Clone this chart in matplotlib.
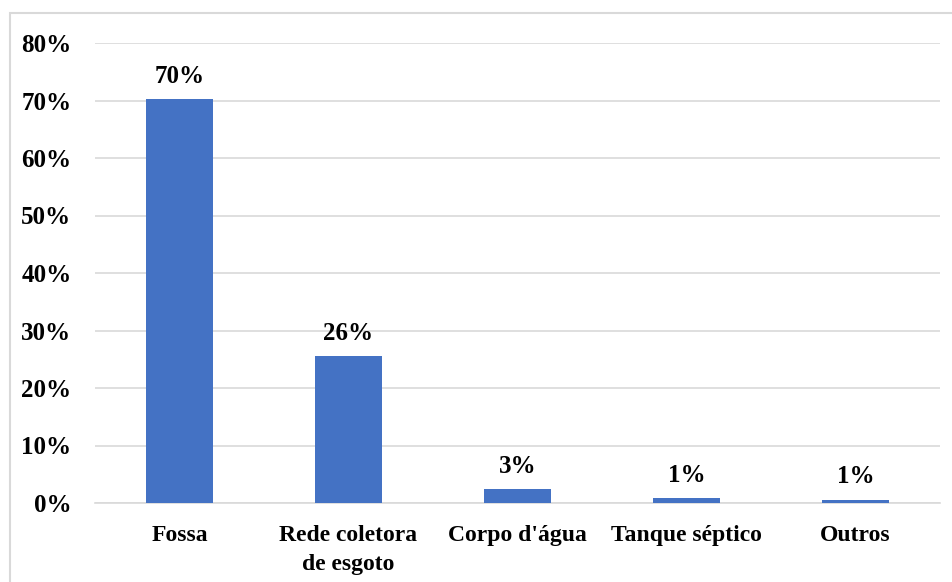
import matplotlib.pyplot as plt
from matplotlib.patches import Rectangle
from matplotlib.ticker import PercentFormatter

categorias = ['Fossa', 'Rede coletora\nde esgoto', "Corpo d'água", 'Tanque séptico', 'Outros']
valores = [70.2, 25.5, 2.4, 0.8, 0.6]
rotulos = ['70%', '26%', '3%', '1%', '1%']

plt.rcParams['font.family'] = ['Liberation Serif', 'DejaVu Serif']
plt.rcParams['font.weight'] = 'bold'

fig = plt.figure(figsize=(9.52, 5.82), dpi=100)
ax = fig.add_axes([95/952, 1-503/582, 845/952, 460/582])

x = range(len(categorias))
bars = ax.bar(x, valores, width=0.4, color='#4472C4', zorder=3)
for b, r in zip(bars, rotulos):
    ax.text(b.get_x()+b.get_width()/2, b.get_height()+2.0, r, ha='center', va='bottom',
            fontsize=18, fontweight='bold')

ax.set_xlim(-0.5, 4.5)
ax.set_ylim(0, 80)
ax.set_yticks(range(0, 81, 10))
ax.yaxis.set_major_formatter(PercentFormatter(decimals=0))
ax.set_xticks(list(x))
ax.set_xticklabels(categorias, fontsize=17, fontweight='bold', linespacing=1.5)
ax.tick_params(axis='y', labelsize=18, length=0, pad=17)
ax.tick_params(axis='x', length=0, pad=16)
for lbl in ax.get_yticklabels():
    lbl.set_fontweight('bold')

ax.grid(axis='y', color='#d9d9d9', linewidth=1.2, zorder=0)
for s in ['left', 'right', 'top']:
    ax.spines[s].set_visible(False)
ax.spines['bottom'].set_color('#d9d9d9')
ax.spines['bottom'].set_linewidth(1.2)

# moldura do grafico
fig.patches.append(Rectangle((10/952, -0.1), 1.2, 1-13/582+0.1, transform=fig.transFigure,
                             fill=False, edgecolor='#d9d9d9', linewidth=1.5))

fig.savefig('out.png', dpi=100)
